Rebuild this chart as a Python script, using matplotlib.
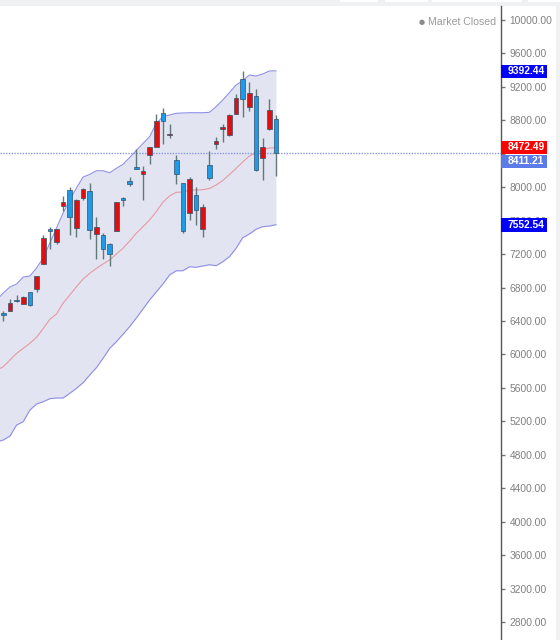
import matplotlib

matplotlib.use("Agg")
import matplotlib.pyplot as plt
from matplotlib.patches import Rectangle

WIDTH_PX = 560
HEIGHT_PX = 640

# candles, oldest first
opens = [6490, 6523, 6651, 6603, 6743, 6779, 7085, 7497, 7348, 7772, 7963, 7516, 7867, 7951,
         7437, 7425, 7324, 7480, 7875, 8071, 8242, 8154, 8385, 8484, 8884, 8621, 8325, 8047,
         7695, 7903, 7504, 8262, 8520, 8696, 8621, 8879, 9291, 8956, 9087, 8353, 8696, 8819]
highs = [6519, 6659, 6711, 6703, 6750, 6940, 7428, 7528, 7500, 7895, 7999, 7855, 7991, 8047,
         7640, 7449, 7336, 7825, 7887, 8126, 8453, 8254, 8480, 8872, 8944, 8756, 8385, 8050,
         8119, 7999, 7796, 8433, 8604, 8756, 8872, 9111, 9390, 9255, 9175, 8585, 9051, 8864]
lows = [6403, 6520, 6627, 6600, 6585, 6750, 7082, 7261, 7321, 7715, 7428, 7408, 7847, 7377,
        7145, 7141, 7061, 7475, 7779, 8014, 8215, 7847, 8278, 8477, 8513, 8592, 8038, 7449,
        7608, 7548, 7408, 8086, 8457, 8544, 8612, 8875, 8836, 8915, 8200, 8086, 8690, 8138]
closes = [6472, 6611, 6635, 6691, 6588, 6938, 7393, 7480, 7497, 7820, 7647, 7843, 7979, 7492,
          7521, 7265, 7201, 7820, 7847, 8038, 8221, 8190, 8477, 8788, 8795, 8640, 8162, 7480,
          8098, 7731, 7767, 8114, 8549, 8724, 8864, 9067, 9051, 9123, 8202, 8477, 8927, 8411]

# bollinger bands, these start one candle before the first one
band_upper = [6651, 6735, 6807, 6842, 6926, 6938, 7034, 7153, 7333, 7512, 7692, 7847, 7991, 8122,
              8154, 8197, 8197, 8173, 8226, 8274, 8355, 8439, 8523, 8604, 8764, 8843, 8864, 8884,
              8888, 8891, 8891, 8891, 8896, 8963, 9043, 9130, 9222, 9274, 9342, 9330, 9354, 9390, 9392]
band_middle = [5814, 5853, 5933, 6013, 6073, 6133, 6205, 6310, 6420, 6484, 6615, 6711, 6810, 6902,
               6970, 7030, 7082, 7130, 7201, 7269, 7357, 7449, 7528, 7608, 7707, 7820, 7895, 7939,
               7943, 7967, 7967, 7970, 7985, 8026, 8080, 8152, 8224, 8302, 8373, 8413, 8445, 8469, 8472]
band_lower = [4953, 4977, 5024, 5156, 5196, 5335, 5407, 5435, 5471, 5479, 5479, 5535, 5595, 5662,
              5754, 5841, 5954, 6073, 6152, 6241, 6332, 6436, 6543, 6651, 6747, 6842, 6950, 7001,
              7001, 7049, 7042, 7058, 7073, 7061, 7109, 7169, 7269, 7396, 7440, 7497, 7528, 7536, 7552]

tick_values = [10000, 9600, 9200, 8800, 8400, 8000, 7600, 7200, 6800, 6400, 6000, 5600, 5200,
               4800, 4400, 4000, 3600, 3200, 2800]
hidden_tick_labels = [8400]  # covered by the price tags
last_close = 8411.21
price_tags = [(9392.44, 71.5, "#0000ff"), (8472.49, 147.5, "#ff0000"),
              (8411.21, 161.5, "#5b7be8"), (7552.54, 225, "#0000ff")]

RED = "#e01010"
BLUE = "#1e9be6"
BORDER = "#f0f1f3"


def px_to_price(y_px):
    return 10000 - (y_px - 20) * 7200 / 602


def main():
    plt.rcParams["font.family"] = ["Liberation Sans", "DejaVu Sans"]

    fig = plt.figure(figsize=(WIDTH_PX / 100, HEIGHT_PX / 100), dpi=100, facecolor=BORDER)

    # white page behind the chart, tabs along the top
    fig.add_artist(Rectangle((0, 0), 556 / WIDTH_PX, 634 / HEIGHT_PX, transform=fig.transFigure,
                             facecolor="white", edgecolor="none", zorder=-2))
    for tab_left, tab_right in [(340, 378), (385, 428), (432, 522), (528, 560)]:
        fig.add_artist(Rectangle((tab_left / WIDTH_PX, 638 / HEIGHT_PX), (tab_right - tab_left) / WIDTH_PX,
                                 2 / HEIGHT_PX, transform=fig.transFigure, facecolor="white",
                                 edgecolor="none", zorder=-2))

    ax = fig.add_axes([0, 0, 501 / WIDTH_PX, 634 / HEIGHT_PX])
    ax.patch.set_alpha(0)

    # axes in candle numbers and price, one candle is 6.65 px wide
    ax.set_xlim(-3.3 / 6.65, (501 - 3.3) / 6.65)
    ax.set_ylim(px_to_price(640), px_to_price(6))

    band_x = list(range(-1, len(opens)))
    ax.fill_between(band_x, band_lower, band_upper, color="#e3e4f1", linewidth=0, zorder=1)
    ax.plot(band_x, band_upper, color="#8f8fe8", linewidth=0.8, zorder=2)
    ax.plot(band_x, band_lower, color="#8f8fe8", linewidth=0.8, zorder=2)
    ax.plot(band_x, band_middle, color="#e39aa4", linewidth=0.8, zorder=2)

    ax.axhline(last_close, color="#8598e6", linewidth=1, linestyle=(0, (1, 1)), zorder=3)

    for i in range(len(opens)):
        color = BLUE if closes[i] < opens[i] else RED
        ax.vlines(i, lows[i], highs[i], color="#5f7a78", linewidth=1, zorder=4)
        body_bottom = min(opens[i], closes[i])
        body_height = abs(closes[i] - opens[i])
        ax.bar(i, body_height, bottom=body_bottom, width=0.7, color=color, edgecolor="#33506a",
               linewidth=0.5, zorder=5)

    # price scale on the right
    for side in ["top", "left", "bottom"]:
        ax.spines[side].set_visible(False)
    ax.spines["right"].set_color("#555555")
    ax.spines["right"].set_linewidth(1)
    ax.set_xticks([])
    ax.yaxis.tick_right()
    ax.set_yticks(tick_values)
    ax.set_yticklabels(["" if v in hidden_tick_labels else f"{v:.2f}" for v in tick_values])
    ax.tick_params(axis="y", direction="out", length=3, width=1, color="#777777",
                   labelcolor="#808080", labelsize=7.4, pad=3)

    fig.text(428 / WIDTH_PX, 1 - 22 / HEIGHT_PX, "Market Closed", color="#9a9a9a", fontsize=7.6,
             va="center", ha="left")
    fig.text(421.5 / WIDTH_PX, 1 - 22 / HEIGHT_PX, "\u25cf", color="#8a8a8a", fontsize=5,
             va="center", ha="center", family="DejaVu Sans")

    for value, y_px, color in price_tags:
        fig.add_artist(Rectangle((501 / WIDTH_PX, 1 - (y_px + 6.8) / HEIGHT_PX), 46 / WIDTH_PX,
                                 13.6 / HEIGHT_PX, transform=fig.transFigure, facecolor=color,
                                 edgecolor="none", zorder=10))
        fig.text(526 / WIDTH_PX, 1 - y_px / HEIGHT_PX, f"{value:.2f}", color="white", fontsize=7.4,
                 fontweight="bold", va="center", ha="center", zorder=11)

    fig.savefig("out.png", dpi=100, facecolor=fig.get_facecolor())


if __name__ == "__main__":
    main()
